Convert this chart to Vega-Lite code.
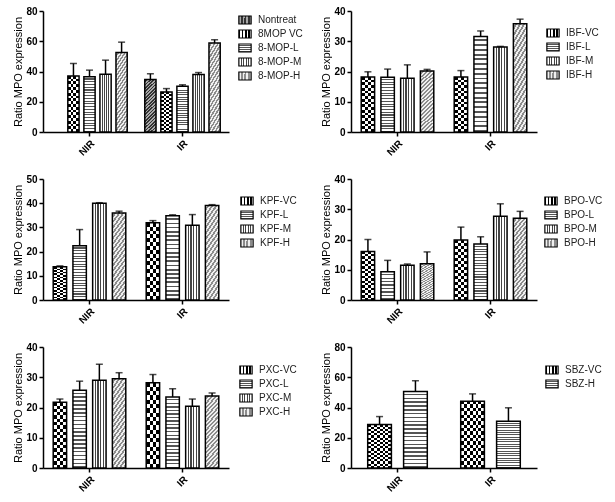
{
"$schema": "https://vega.github.io/schema/vega-lite/v6.json",
"background": "white",
"padding": {"left": 12, "top": 6, "right": 0, "bottom": 0},
"params": [
 {"name": "gNT", "expr": "{gradient:'linear',x1:0,y1:0,x2:0.25,y2:1.2,stops:[{offset:0,color:'#a8a8a8'},{offset:0.025,color:'#a8a8a8'},{offset:0.025,color:'#333'},{offset:0.05,color:'#333'},{offset:0.05,color:'#a8a8a8'},{offset:0.075,color:'#a8a8a8'},{offset:0.075,color:'#333'},{offset:0.1,color:'#333'},{offset:0.1,color:'#a8a8a8'},{offset:0.125,color:'#a8a8a8'},{offset:0.125,color:'#333'},{offset:0.15,color:'#333'},{offset:0.15,color:'#a8a8a8'},{offset:0.175,color:'#a8a8a8'},{offset:0.175,color:'#333'},{offset:0.2,color:'#333'},{offset:0.2,color:'#a8a8a8'},{offset:0.225,color:'#a8a8a8'},{offset:0.225,color:'#333'},{offset:0.25,color:'#333'},{offset:0.25,color:'#a8a8a8'},{offset:0.275,color:'#a8a8a8'},{offset:0.275,color:'#333'},{offset:0.3,color:'#333'},{offset:0.3,color:'#a8a8a8'},{offset:0.325,color:'#a8a8a8'},{offset:0.325,color:'#333'},{offset:0.35,color:'#333'},{offset:0.35,color:'#a8a8a8'},{offset:0.375,color:'#a8a8a8'},{offset:0.375,color:'#333'},{offset:0.4,color:'#333'},{offset:0.4,color:'#a8a8a8'},{offset:0.425,color:'#a8a8a8'},{offset:0.425,color:'#333'},{offset:0.45,color:'#333'},{offset:0.45,color:'#a8a8a8'},{offset:0.475,color:'#a8a8a8'},{offset:0.475,color:'#333'},{offset:0.5,color:'#333'},{offset:0.5,color:'#a8a8a8'},{offset:0.525,color:'#a8a8a8'},{offset:0.525,color:'#333'},{offset:0.55,color:'#333'},{offset:0.55,color:'#a8a8a8'},{offset:0.575,color:'#a8a8a8'},{offset:0.575,color:'#333'},{offset:0.6,color:'#333'},{offset:0.6,color:'#a8a8a8'},{offset:0.625,color:'#a8a8a8'},{offset:0.625,color:'#333'},{offset:0.65,color:'#333'},{offset:0.65,color:'#a8a8a8'},{offset:0.675,color:'#a8a8a8'},{offset:0.675,color:'#333'},{offset:0.7,color:'#333'},{offset:0.7,color:'#a8a8a8'},{offset:0.725,color:'#a8a8a8'},{offset:0.725,color:'#333'},{offset:0.75,color:'#333'},{offset:0.75,color:'#a8a8a8'},{offset:0.775,color:'#a8a8a8'},{offset:0.775,color:'#333'},{offset:0.8,color:'#333'},{offset:0.8,color:'#a8a8a8'},{offset:0.825,color:'#a8a8a8'},{offset:0.825,color:'#333'},{offset:0.85,color:'#333'},{offset:0.85,color:'#a8a8a8'},{offset:0.875,color:'#a8a8a8'},{offset:0.875,color:'#333'},{offset:0.9,color:'#333'},{offset:0.9,color:'#a8a8a8'},{offset:0.925,color:'#a8a8a8'},{offset:0.925,color:'#333'},{offset:0.95,color:'#333'},{offset:0.95,color:'#a8a8a8'},{offset:0.975,color:'#a8a8a8'},{offset:0.975,color:'#333'},{offset:1,color:'#333'}]}"},
 {"name": "gVC", "expr": "{gradient:'linear',x1:0,y1:0,x2:1,y2:0,stops:[{offset:0,color:'#000'},{offset:0.125,color:'#000'},{offset:0.125,color:'#fff'},{offset:0.25,color:'#fff'},{offset:0.25,color:'#000'},{offset:0.375,color:'#000'},{offset:0.375,color:'#fff'},{offset:0.5,color:'#fff'},{offset:0.5,color:'#000'},{offset:0.625,color:'#000'},{offset:0.625,color:'#fff'},{offset:0.75,color:'#fff'},{offset:0.75,color:'#000'},{offset:0.875,color:'#000'},{offset:0.875,color:'#fff'},{offset:1,color:'#fff'}]}"},
 {"name": "gL", "expr": "{gradient:'linear',x1:0,y1:0,x2:0,y2:1,stops:[{offset:0,color:'#fff'},{offset:0.03,color:'#fff'},{offset:0.03,color:'#555'},{offset:0.05,color:'#555'},{offset:0.05,color:'#fff'},{offset:0.08,color:'#fff'},{offset:0.08,color:'#555'},{offset:0.1,color:'#555'},{offset:0.1,color:'#fff'},{offset:0.13,color:'#fff'},{offset:0.13,color:'#555'},{offset:0.15,color:'#555'},{offset:0.15,color:'#fff'},{offset:0.18,color:'#fff'},{offset:0.18,color:'#555'},{offset:0.2,color:'#555'},{offset:0.2,color:'#fff'},{offset:0.23,color:'#fff'},{offset:0.23,color:'#555'},{offset:0.25,color:'#555'},{offset:0.25,color:'#fff'},{offset:0.28,color:'#fff'},{offset:0.28,color:'#555'},{offset:0.3,color:'#555'},{offset:0.3,color:'#fff'},{offset:0.33,color:'#fff'},{offset:0.33,color:'#555'},{offset:0.35,color:'#555'},{offset:0.35,color:'#fff'},{offset:0.38,color:'#fff'},{offset:0.38,color:'#555'},{offset:0.4,color:'#555'},{offset:0.4,color:'#fff'},{offset:0.43,color:'#fff'},{offset:0.43,color:'#555'},{offset:0.45,color:'#555'},{offset:0.45,color:'#fff'},{offset:0.48,color:'#fff'},{offset:0.48,color:'#555'},{offset:0.5,color:'#555'},{offset:0.5,color:'#fff'},{offset:0.53,color:'#fff'},{offset:0.53,color:'#555'},{offset:0.55,color:'#555'},{offset:0.55,color:'#fff'},{offset:0.58,color:'#fff'},{offset:0.58,color:'#555'},{offset:0.6,color:'#555'},{offset:0.6,color:'#fff'},{offset:0.63,color:'#fff'},{offset:0.63,color:'#555'},{offset:0.65,color:'#555'},{offset:0.65,color:'#fff'},{offset:0.68,color:'#fff'},{offset:0.68,color:'#555'},{offset:0.7,color:'#555'},{offset:0.7,color:'#fff'},{offset:0.73,color:'#fff'},{offset:0.73,color:'#555'},{offset:0.75,color:'#555'},{offset:0.75,color:'#fff'},{offset:0.78,color:'#fff'},{offset:0.78,color:'#555'},{offset:0.8,color:'#555'},{offset:0.8,color:'#fff'},{offset:0.83,color:'#fff'},{offset:0.83,color:'#555'},{offset:0.85,color:'#555'},{offset:0.85,color:'#fff'},{offset:0.88,color:'#fff'},{offset:0.88,color:'#555'},{offset:0.9,color:'#555'},{offset:0.9,color:'#fff'},{offset:0.93,color:'#fff'},{offset:0.93,color:'#555'},{offset:0.95,color:'#555'},{offset:0.95,color:'#fff'},{offset:0.98,color:'#fff'},{offset:0.98,color:'#555'},{offset:1,color:'#555'}]}"},
 {"name": "gM", "expr": "{gradient:'linear',x1:0,y1:0,x2:1,y2:0,stops:[{offset:0,color:'#fff'},{offset:0.16,color:'#fff'},{offset:0.16,color:'#444'},{offset:0.24,color:'#444'},{offset:0.24,color:'#fff'},{offset:0.36,color:'#fff'},{offset:0.36,color:'#444'},{offset:0.44,color:'#444'},{offset:0.44,color:'#fff'},{offset:0.56,color:'#fff'},{offset:0.56,color:'#444'},{offset:0.64,color:'#444'},{offset:0.64,color:'#fff'},{offset:0.76,color:'#fff'},{offset:0.76,color:'#444'},{offset:0.84,color:'#444'},{offset:0.84,color:'#fff'},{offset:1,color:'#fff'}]}"},
 {"name": "gH", "expr": "{gradient:'linear',x1:0,y1:0,x2:0.25,y2:1.2,stops:[{offset:0,color:'#f0f0f0'},{offset:0.025,color:'#f0f0f0'},{offset:0.025,color:'#8c8c8c'},{offset:0.05,color:'#8c8c8c'},{offset:0.05,color:'#f0f0f0'},{offset:0.075,color:'#f0f0f0'},{offset:0.075,color:'#8c8c8c'},{offset:0.1,color:'#8c8c8c'},{offset:0.1,color:'#f0f0f0'},{offset:0.125,color:'#f0f0f0'},{offset:0.125,color:'#8c8c8c'},{offset:0.15,color:'#8c8c8c'},{offset:0.15,color:'#f0f0f0'},{offset:0.175,color:'#f0f0f0'},{offset:0.175,color:'#8c8c8c'},{offset:0.2,color:'#8c8c8c'},{offset:0.2,color:'#f0f0f0'},{offset:0.225,color:'#f0f0f0'},{offset:0.225,color:'#8c8c8c'},{offset:0.25,color:'#8c8c8c'},{offset:0.25,color:'#f0f0f0'},{offset:0.275,color:'#f0f0f0'},{offset:0.275,color:'#8c8c8c'},{offset:0.3,color:'#8c8c8c'},{offset:0.3,color:'#f0f0f0'},{offset:0.325,color:'#f0f0f0'},{offset:0.325,color:'#8c8c8c'},{offset:0.35,color:'#8c8c8c'},{offset:0.35,color:'#f0f0f0'},{offset:0.375,color:'#f0f0f0'},{offset:0.375,color:'#8c8c8c'},{offset:0.4,color:'#8c8c8c'},{offset:0.4,color:'#f0f0f0'},{offset:0.425,color:'#f0f0f0'},{offset:0.425,color:'#8c8c8c'},{offset:0.45,color:'#8c8c8c'},{offset:0.45,color:'#f0f0f0'},{offset:0.475,color:'#f0f0f0'},{offset:0.475,color:'#8c8c8c'},{offset:0.5,color:'#8c8c8c'},{offset:0.5,color:'#f0f0f0'},{offset:0.525,color:'#f0f0f0'},{offset:0.525,color:'#8c8c8c'},{offset:0.55,color:'#8c8c8c'},{offset:0.55,color:'#f0f0f0'},{offset:0.575,color:'#f0f0f0'},{offset:0.575,color:'#8c8c8c'},{offset:0.6,color:'#8c8c8c'},{offset:0.6,color:'#f0f0f0'},{offset:0.625,color:'#f0f0f0'},{offset:0.625,color:'#8c8c8c'},{offset:0.65,color:'#8c8c8c'},{offset:0.65,color:'#f0f0f0'},{offset:0.675,color:'#f0f0f0'},{offset:0.675,color:'#8c8c8c'},{offset:0.7,color:'#8c8c8c'},{offset:0.7,color:'#f0f0f0'},{offset:0.725,color:'#f0f0f0'},{offset:0.725,color:'#8c8c8c'},{offset:0.75,color:'#8c8c8c'},{offset:0.75,color:'#f0f0f0'},{offset:0.775,color:'#f0f0f0'},{offset:0.775,color:'#8c8c8c'},{offset:0.8,color:'#8c8c8c'},{offset:0.8,color:'#f0f0f0'},{offset:0.825,color:'#f0f0f0'},{offset:0.825,color:'#8c8c8c'},{offset:0.85,color:'#8c8c8c'},{offset:0.85,color:'#f0f0f0'},{offset:0.875,color:'#f0f0f0'},{offset:0.875,color:'#8c8c8c'},{offset:0.9,color:'#8c8c8c'},{offset:0.9,color:'#f0f0f0'},{offset:0.925,color:'#f0f0f0'},{offset:0.925,color:'#8c8c8c'},{offset:0.95,color:'#8c8c8c'},{offset:0.95,color:'#f0f0f0'},{offset:0.975,color:'#f0f0f0'},{offset:0.975,color:'#8c8c8c'},{offset:1,color:'#8c8c8c'}]}"},
 {"name": "gR", "expr": "{gradient:'linear',x1:0,y1:0,x2:0,y2:1,stops:[{offset:0,color:'#fff'},{offset:0.05,color:'#fff'},{offset:0.05,color:'#000'},{offset:0.1,color:'#000'},{offset:0.1,color:'#fff'},{offset:0.15,color:'#fff'},{offset:0.15,color:'#000'},{offset:0.2,color:'#000'},{offset:0.2,color:'#fff'},{offset:0.25,color:'#fff'},{offset:0.25,color:'#000'},{offset:0.3,color:'#000'},{offset:0.3,color:'#fff'},{offset:0.35,color:'#fff'},{offset:0.35,color:'#000'},{offset:0.4,color:'#000'},{offset:0.4,color:'#fff'},{offset:0.45,color:'#fff'},{offset:0.45,color:'#000'},{offset:0.5,color:'#000'},{offset:0.5,color:'#fff'},{offset:0.55,color:'#fff'},{offset:0.55,color:'#000'},{offset:0.6,color:'#000'},{offset:0.6,color:'#fff'},{offset:0.65,color:'#fff'},{offset:0.65,color:'#000'},{offset:0.7,color:'#000'},{offset:0.7,color:'#fff'},{offset:0.75,color:'#fff'},{offset:0.75,color:'#000'},{offset:0.8,color:'#000'},{offset:0.8,color:'#fff'},{offset:0.85,color:'#fff'},{offset:0.85,color:'#000'},{offset:0.9,color:'#000'},{offset:0.9,color:'#fff'},{offset:0.95,color:'#fff'},{offset:0.95,color:'#000'},{offset:1,color:'#000'}]}"},
 {"name": "gC", "expr": "{gradient:'linear',x1:0,y1:0,x2:1,y2:0,stops:[{offset:0,color:'#fff'},{offset:0.25,color:'#fff'},{offset:0.25,color:'#000'},{offset:0.5,color:'#000'},{offset:0.5,color:'#fff'},{offset:0.75,color:'#fff'},{offset:0.75,color:'#000'},{offset:1,color:'#000'}]}"},
 {"name": "gC2", "expr": "{gradient:'linear',x1:0,y1:0,x2:1,y2:0,stops:[{offset:0,color:'#fff'},{offset:0.125,color:'#fff'},{offset:0.125,color:'#000'},{offset:0.25,color:'#000'},{offset:0.25,color:'#fff'},{offset:0.375,color:'#fff'},{offset:0.375,color:'#000'},{offset:0.5,color:'#000'},{offset:0.5,color:'#fff'},{offset:0.625,color:'#fff'},{offset:0.625,color:'#000'},{offset:0.75,color:'#000'},{offset:0.75,color:'#fff'},{offset:0.875,color:'#fff'},{offset:0.875,color:'#000'},{offset:1,color:'#000'}]}"}
],
"columns": 2,
"spacing": {"row": 16, "column": 16},
"resolve": {"scale": {"fill": "independent", "xOffset": "independent", "y": "independent", "x": "independent"}},
"concat": [
{
 "width": 186, "height": 121,
 "data": {"values": [
  {"g": "NIR", "s": "8MOP VC", "mean": 37.1, "upper": 45.3},
  {"g": "NIR", "s": "8-MOP-L", "mean": 36.5, "upper": 40.9},
  {"g": "NIR", "s": "8-MOP-M", "mean": 38.2, "upper": 47.5},
  {"g": "NIR", "s": "8-MOP-H", "mean": 52.6, "upper": 59.4},
  {"g": "IR", "s": "Nontreat", "mean": 34.7, "upper": 38.5},
  {"g": "IR", "s": "8MOP VC", "mean": 26.5, "upper": 28.7},
  {"g": "IR", "s": "8-MOP-L", "mean": 30.3, "upper": 31.2},
  {"g": "IR", "s": "8-MOP-M", "mean": 38.0, "upper": 39.3},
  {"g": "IR", "s": "8-MOP-H", "mean": 58.8, "upper": 61.0}
 ]},
 "encoding": {
  "x": {"field": "g", "type": "nominal", "sort": ["NIR", "IR"], "title": null, "scale": {"paddingInner": 0.12, "paddingOuter": 0.06}},
  "xOffset": {"field": "s", "type": "nominal", "scale": {"domain": ["Nontreat", "8MOP VC", "8-MOP-L", "8-MOP-M", "8-MOP-H"], "paddingInner": 0.3, "paddingOuter": 0.2}},
  "y": {"field": "mean", "type": "quantitative", "title": "Ratio MPO expression", "scale": {"domain": [0, 80], "nice": false}, "axis": {"values": [0, 20, 40, 60, 80]}}
 },
 "layer": [
  {"mark": {"type": "bar"}, "encoding": {"fill": {"field": "s", "type": "nominal", "scale": {"domain": ["Nontreat", "8MOP VC", "8-MOP-L", "8-MOP-M", "8-MOP-H", "rows", "cols"], "range": [{"expr": "gNT"}, {"expr": "gVC"}, {"expr": "gL"}, {"expr": "gM"}, {"expr": "gH"}, {"expr": "gR"}, {"expr": "gC"}]}, "legend": {"title": null, "orient": "none", "legendX": 195, "legendY": 2, "values": ["Nontreat", "8MOP VC", "8-MOP-L", "8-MOP-M", "8-MOP-H"]}}}},
  {"transform": [{"filter": {"field": "s", "oneOf": ["8MOP VC"]}}], "mark": {"type": "bar"}, "encoding": {"fill": {"datum": "rows", "type": "nominal"}}},
  {"transform": [{"filter": {"field": "s", "oneOf": ["8MOP VC"]}}], "mark": {"type": "bar", "blend": "difference"}, "encoding": {"fill": {"datum": "cols", "type": "nominal"}}},
  {"mark": {"type": "bar", "fillOpacity": 0, "stroke": "black", "strokeWidth": 1.5}},
  {"mark": {"type": "rule", "color": "black", "strokeWidth": 1.5}, "encoding": {"y2": {"field": "upper"}}},
  {"mark": {"type": "tick", "color": "black", "thickness": 1.5, "size": 7}, "encoding": {"y": {"field": "upper", "type": "quantitative", "title": "Ratio MPO expression"}}}
 ]
},
{
 "width": 186, "height": 121,
 "data": {"values": [
  {"g": "NIR", "s": "IBF-VC", "mean": 18.2, "upper": 19.9},
  {"g": "NIR", "s": "IBF-L", "mean": 18.1, "upper": 20.8},
  {"g": "NIR", "s": "IBF-M", "mean": 17.8, "upper": 22.2},
  {"g": "NIR", "s": "IBF-H", "mean": 20.2, "upper": 20.7},
  {"g": "IR", "s": "IBF-VC", "mean": 18.2, "upper": 20.3},
  {"g": "IR", "s": "IBF-L", "mean": 31.6, "upper": 33.4},
  {"g": "IR", "s": "IBF-M", "mean": 28.1, "upper": 28.3},
  {"g": "IR", "s": "IBF-H", "mean": 35.8, "upper": 37.3}
 ]},
 "encoding": {
  "x": {"field": "g", "type": "nominal", "sort": ["NIR", "IR"], "title": null, "scale": {"paddingInner": 0.12, "paddingOuter": 0.06}},
  "xOffset": {"field": "s", "type": "nominal", "scale": {"domain": ["IBF-VC", "IBF-L", "IBF-M", "IBF-H"], "paddingInner": 0.32, "paddingOuter": 0.235}},
  "y": {"field": "mean", "type": "quantitative", "title": "Ratio MPO expression", "scale": {"domain": [0, 40], "nice": false}, "axis": {"values": [0, 10, 20, 30, 40]}}
 },
 "layer": [
  {"mark": {"type": "bar"}, "encoding": {"fill": {"field": "s", "type": "nominal", "scale": {"domain": ["IBF-VC", "IBF-L", "IBF-M", "IBF-H", "rows", "cols"], "range": [{"expr": "gVC"}, {"expr": "gL"}, {"expr": "gM"}, {"expr": "gH"}, {"expr": "gR"}, {"expr": "gC"}]}, "legend": {"title": null, "orient": "none", "legendX": 195, "legendY": 15, "values": ["IBF-VC", "IBF-L", "IBF-M", "IBF-H"]}}}},
  {"transform": [{"filter": {"field": "s", "oneOf": ["IBF-VC"]}}], "mark": {"type": "bar"}, "encoding": {"fill": {"datum": "rows", "type": "nominal"}}},
  {"transform": [{"filter": {"field": "s", "oneOf": ["IBF-VC"]}}], "mark": {"type": "bar", "blend": "difference"}, "encoding": {"fill": {"datum": "cols", "type": "nominal"}}},
  {"mark": {"type": "bar", "fillOpacity": 0, "stroke": "black", "strokeWidth": 1.5}},
  {"mark": {"type": "rule", "color": "black", "strokeWidth": 1.5}, "encoding": {"y2": {"field": "upper"}}},
  {"mark": {"type": "tick", "color": "black", "thickness": 1.5, "size": 7}, "encoding": {"y": {"field": "upper", "type": "quantitative", "title": "Ratio MPO expression"}}}
 ]
},
{
 "width": 186, "height": 121,
 "data": {"values": [
  {"g": "NIR", "s": "KPF-VC", "mean": 13.7, "upper": 14.1},
  {"g": "NIR", "s": "KPF-L", "mean": 22.4, "upper": 29.1},
  {"g": "NIR", "s": "KPF-M", "mean": 40.0, "upper": 40.2},
  {"g": "NIR", "s": "KPF-H", "mean": 35.9, "upper": 36.7},
  {"g": "IR", "s": "KPF-VC", "mean": 31.9, "upper": 32.8},
  {"g": "IR", "s": "KPF-L", "mean": 34.8, "upper": 35.2},
  {"g": "IR", "s": "KPF-M", "mean": 30.9, "upper": 35.3},
  {"g": "IR", "s": "KPF-H", "mean": 39.0, "upper": 39.4}
 ]},
 "encoding": {
  "x": {"field": "g", "type": "nominal", "sort": ["NIR", "IR"], "title": null, "scale": {"paddingInner": 0.12, "paddingOuter": 0.06}},
  "xOffset": {"field": "s", "type": "nominal", "scale": {"domain": ["KPF-VC", "KPF-L", "KPF-M", "KPF-H"], "paddingInner": 0.32, "paddingOuter": 0.235}},
  "y": {"field": "mean", "type": "quantitative", "title": "Ratio MPO expression", "scale": {"domain": [0, 50], "nice": false}, "axis": {"values": [0, 10, 20, 30, 40, 50]}}
 },
 "layer": [
  {"mark": {"type": "bar"}, "encoding": {"fill": {"field": "s", "type": "nominal", "scale": {"domain": ["KPF-VC", "KPF-L", "KPF-M", "KPF-H", "rows", "cols"], "range": [{"expr": "gVC"}, {"expr": "gL"}, {"expr": "gM"}, {"expr": "gH"}, {"expr": "gR"}, {"expr": "gC"}]}, "legend": {"title": null, "orient": "none", "legendX": 197, "legendY": 15, "values": ["KPF-VC", "KPF-L", "KPF-M", "KPF-H"]}}}},
  {"transform": [{"filter": {"field": "s", "oneOf": ["KPF-VC"]}}], "mark": {"type": "bar"}, "encoding": {"fill": {"datum": "rows", "type": "nominal"}}},
  {"transform": [{"filter": {"field": "s", "oneOf": ["KPF-VC"]}}], "mark": {"type": "bar", "blend": "difference"}, "encoding": {"fill": {"datum": "cols", "type": "nominal"}}},
  {"mark": {"type": "bar", "fillOpacity": 0, "stroke": "black", "strokeWidth": 1.5}},
  {"mark": {"type": "rule", "color": "black", "strokeWidth": 1.5}, "encoding": {"y2": {"field": "upper"}}},
  {"mark": {"type": "tick", "color": "black", "thickness": 1.5, "size": 7}, "encoding": {"y": {"field": "upper", "type": "quantitative", "title": "Ratio MPO expression"}}}
 ]
},
{
 "width": 186, "height": 121,
 "data": {"values": [
  {"g": "NIR", "s": "BPO-VC", "mean": 16.0, "upper": 20.0},
  {"g": "NIR", "s": "BPO-L", "mean": 9.3, "upper": 13.1},
  {"g": "NIR", "s": "BPO-M", "mean": 11.5, "upper": 11.9},
  {"g": "NIR", "s": "BPO-H", "mean": 12.0, "upper": 15.9},
  {"g": "IR", "s": "BPO-VC", "mean": 19.8, "upper": 24.1},
  {"g": "IR", "s": "BPO-L", "mean": 18.5, "upper": 20.9},
  {"g": "IR", "s": "BPO-M", "mean": 27.7, "upper": 31.8},
  {"g": "IR", "s": "BPO-H", "mean": 27.0, "upper": 29.3}
 ]},
 "encoding": {
  "x": {"field": "g", "type": "nominal", "sort": ["NIR", "IR"], "title": null, "scale": {"paddingInner": 0.12, "paddingOuter": 0.06}},
  "xOffset": {"field": "s", "type": "nominal", "scale": {"domain": ["BPO-VC", "BPO-L", "BPO-M", "BPO-H"], "paddingInner": 0.32, "paddingOuter": 0.235}},
  "y": {"field": "mean", "type": "quantitative", "title": "Ratio MPO expression", "scale": {"domain": [0, 40], "nice": false}, "axis": {"values": [0, 10, 20, 30, 40]}}
 },
 "layer": [
  {"mark": {"type": "bar"}, "encoding": {"fill": {"field": "s", "type": "nominal", "scale": {"domain": ["BPO-VC", "BPO-L", "BPO-M", "BPO-H", "rows", "cols"], "range": [{"expr": "gVC"}, {"expr": "gL"}, {"expr": "gM"}, {"expr": "gH"}, {"expr": "gR"}, {"expr": "gC"}]}, "legend": {"title": null, "orient": "none", "legendX": 193, "legendY": 15, "values": ["BPO-VC", "BPO-L", "BPO-M", "BPO-H"]}}}},
  {"transform": [{"filter": {"field": "s", "oneOf": ["BPO-VC"]}}], "mark": {"type": "bar"}, "encoding": {"fill": {"datum": "rows", "type": "nominal"}}},
  {"transform": [{"filter": {"field": "s", "oneOf": ["BPO-VC"]}}], "mark": {"type": "bar", "blend": "difference"}, "encoding": {"fill": {"datum": "cols", "type": "nominal"}}},
  {"mark": {"type": "bar", "fillOpacity": 0, "stroke": "black", "strokeWidth": 1.5}},
  {"mark": {"type": "rule", "color": "black", "strokeWidth": 1.5}, "encoding": {"y2": {"field": "upper"}}},
  {"mark": {"type": "tick", "color": "black", "thickness": 1.5, "size": 7}, "encoding": {"y": {"field": "upper", "type": "quantitative", "title": "Ratio MPO expression"}}}
 ]
},
{
 "width": 186, "height": 121,
 "data": {"values": [
  {"g": "NIR", "s": "PXC-VC", "mean": 21.7, "upper": 22.8},
  {"g": "NIR", "s": "PXC-L", "mean": 25.7, "upper": 28.7},
  {"g": "NIR", "s": "PXC-M", "mean": 29.0, "upper": 34.3},
  {"g": "NIR", "s": "PXC-H", "mean": 29.5, "upper": 31.5},
  {"g": "IR", "s": "PXC-VC", "mean": 28.2, "upper": 30.9},
  {"g": "IR", "s": "PXC-L", "mean": 23.5, "upper": 26.2},
  {"g": "IR", "s": "PXC-M", "mean": 20.4, "upper": 22.8},
  {"g": "IR", "s": "PXC-H", "mean": 23.8, "upper": 24.8}
 ]},
 "encoding": {
  "x": {"field": "g", "type": "nominal", "sort": ["NIR", "IR"], "title": null, "scale": {"paddingInner": 0.12, "paddingOuter": 0.06}},
  "xOffset": {"field": "s", "type": "nominal", "scale": {"domain": ["PXC-VC", "PXC-L", "PXC-M", "PXC-H"], "paddingInner": 0.32, "paddingOuter": 0.235}},
  "y": {"field": "mean", "type": "quantitative", "title": "Ratio MPO expression", "scale": {"domain": [0, 40], "nice": false}, "axis": {"values": [0, 10, 20, 30, 40]}}
 },
 "layer": [
  {"mark": {"type": "bar"}, "encoding": {"fill": {"field": "s", "type": "nominal", "scale": {"domain": ["PXC-VC", "PXC-L", "PXC-M", "PXC-H", "rows", "cols"], "range": [{"expr": "gVC"}, {"expr": "gL"}, {"expr": "gM"}, {"expr": "gH"}, {"expr": "gR"}, {"expr": "gC"}]}, "legend": {"title": null, "orient": "none", "legendX": 196, "legendY": 16, "values": ["PXC-VC", "PXC-L", "PXC-M", "PXC-H"]}}}},
  {"transform": [{"filter": {"field": "s", "oneOf": ["PXC-VC"]}}], "mark": {"type": "bar"}, "encoding": {"fill": {"datum": "rows", "type": "nominal"}}},
  {"transform": [{"filter": {"field": "s", "oneOf": ["PXC-VC"]}}], "mark": {"type": "bar", "blend": "difference"}, "encoding": {"fill": {"datum": "cols", "type": "nominal"}}},
  {"mark": {"type": "bar", "fillOpacity": 0, "stroke": "black", "strokeWidth": 1.5}},
  {"mark": {"type": "rule", "color": "black", "strokeWidth": 1.5}, "encoding": {"y2": {"field": "upper"}}},
  {"mark": {"type": "tick", "color": "black", "thickness": 1.5, "size": 7}, "encoding": {"y": {"field": "upper", "type": "quantitative", "title": "Ratio MPO expression"}}}
 ]
},
{
 "width": 186, "height": 121,
 "data": {"values": [
  {"g": "NIR", "s": "SBZ-VC", "mean": 28.7, "upper": 34.0},
  {"g": "NIR", "s": "SBZ-H", "mean": 50.6, "upper": 57.7},
  {"g": "IR", "s": "SBZ-VC", "mean": 44.2, "upper": 49.0},
  {"g": "IR", "s": "SBZ-H", "mean": 30.9, "upper": 39.8}
 ]},
 "encoding": {
  "x": {"field": "g", "type": "nominal", "sort": ["NIR", "IR"], "title": null, "scale": {"paddingInner": 0.12, "paddingOuter": 0.06}},
  "xOffset": {"field": "s", "type": "nominal", "scale": {"domain": ["SBZ-VC", "SBZ-H"], "paddingInner": 0.34, "paddingOuter": 0.31}},
  "y": {"field": "mean", "type": "quantitative", "title": "Ratio MPO expression", "scale": {"domain": [0, 80], "nice": false}, "axis": {"values": [0, 20, 40, 60, 80]}}
 },
 "layer": [
  {"mark": {"type": "bar"}, "encoding": {"fill": {"field": "s", "type": "nominal", "scale": {"domain": ["SBZ-VC", "SBZ-H", "rows", "cols"], "range": [{"expr": "gVC"}, {"expr": "gL"}, {"expr": "gR"}, {"expr": "gC2"}]}, "legend": {"title": null, "orient": "none", "legendX": 194, "legendY": 16, "values": ["SBZ-VC", "SBZ-H"]}}}},
  {"transform": [{"filter": {"field": "s", "oneOf": ["SBZ-VC"]}}], "mark": {"type": "bar"}, "encoding": {"fill": {"datum": "rows", "type": "nominal"}}},
  {"transform": [{"filter": {"field": "s", "oneOf": ["SBZ-VC"]}}], "mark": {"type": "bar", "blend": "difference"}, "encoding": {"fill": {"datum": "cols", "type": "nominal"}}},
  {"mark": {"type": "bar", "fillOpacity": 0, "stroke": "black", "strokeWidth": 1.5}},
  {"mark": {"type": "rule", "color": "black", "strokeWidth": 1.5}, "encoding": {"y2": {"field": "upper"}}},
  {"mark": {"type": "tick", "color": "black", "thickness": 1.5, "size": 7}, "encoding": {"y": {"field": "upper", "type": "quantitative", "title": "Ratio MPO expression"}}}
 ]
}
],
"config": {
 "font": "Liberation Sans",
 "view": {"stroke": null},
 "axis": {"labelFont": "Liberation Sans", "titleFont": "Liberation Sans", "labelColor": "black", "titleColor": "black", "domainColor": "black", "tickColor": "black", "domainWidth": 1.5, "tickWidth": 1.5, "tickSize": 4, "labelFontWeight": "bold", "labelFontSize": 10, "titleFontSize": 11, "titleFontWeight": "normal", "grid": false, "labelPadding": 2},
 "axisX": {"labelAngle": -45},
 "axisY": {"titlePadding": 2},
 "legend": {"symbolType": "M-1,-0.65H1V0.65H-1Z", "symbolSize": 150, "symbolStrokeColor": "black", "symbolStrokeWidth": 1.2, "labelFont": "Liberation Sans", "labelFontSize": 10, "labelColor": "#222222", "labelOffset": 6, "rowPadding": 0, "padding": 0}
}
}
